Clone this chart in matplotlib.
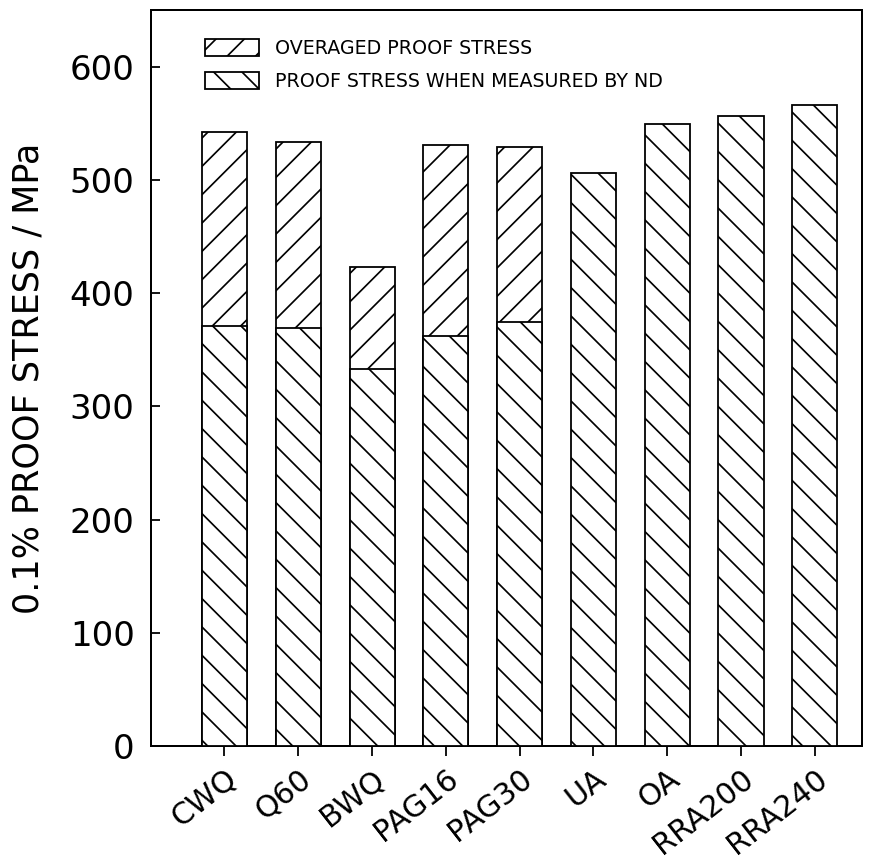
import matplotlib
matplotlib.use("Agg")
import matplotlib.pyplot as plt
import numpy as np

categories = ["CWQ", "Q60", "BWQ", "PAG16", "PAG30", "UA", "OA", "RRA200", "RRA240"]
overaged = [542, 533, 423, 531, 529, np.nan, np.nan, np.nan, np.nan]
nd_stress = [371, 369, 333, 362, 374, 506, 549, 556, 566]
yticks = [0, 100, 200, 300, 400, 500, 600]

DPI = 170
def pt(px):
    return px * 72.0 / DPI

plt.rcParams['hatch.linewidth'] = pt(1.7)
fig = plt.figure(figsize=(878 / DPI, 861 / DPI), dpi=DPI)
ax = fig.add_axes([0.1716, 0.1336, 0.9818 - 0.1716, 0.9884 - 0.1336])

x = np.arange(len(categories))
w = 0.61
ov = np.array(overaged, dtype=float)
mask = ~np.isnan(ov)
ax.bar(x[mask], ov[mask], width=w, color='white', edgecolor='black',
       linewidth=pt(1.8), hatch='//', label='OVERAGED PROOF STRESS', zorder=2)
ax.bar(x, nd_stress, width=w, color='white', edgecolor='black',
       linewidth=pt(1.8), hatch='\\\\', label='PROOF STRESS WHEN MEASURED BY ND', zorder=3)

ax.set_xlim(-1.0, 8.64)
ax.set_ylim(0, 650)
ax.set_yticks(yticks)
ax.set_yticklabels([str(t) for t in yticks], fontsize=pt(34), family='DejaVu Sans')
ax.set_xticks(x)
ax.set_xticklabels(categories, rotation=38, ha='right', rotation_mode='anchor',
                   fontsize=pt(30), family='DejaVu Sans')
ax.tick_params(axis='y', direction='in', length=pt(9), width=pt(1.8), pad=pt(16))
ax.tick_params(axis='x', direction='out', length=pt(10), width=pt(1.8), pad=pt(8))
for s in ax.spines.values():
    s.set_linewidth(pt(2))
ax.set_ylabel("0.1% PROOF STRESS / MPa", fontsize=pt(35), family='DejaVu Sans',
              labelpad=pt(24))

leg = ax.legend(loc='upper left', bbox_to_anchor=(0.053, 0.984), frameon=False,
                prop={'family': 'DejaVu Sans', 'size': pt(19)},
                handlelength=2.8, handleheight=1.0, handletextpad=0.85,
                labelspacing=0.75, borderpad=0.4)

fig.savefig("out.png", dpi=DPI)
